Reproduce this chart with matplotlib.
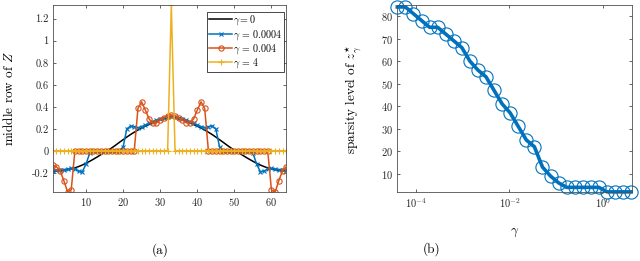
import matplotlib
matplotlib.use('Agg')
import matplotlib.pyplot as plt
from matplotlib.ticker import FixedLocator, FixedFormatter, NullLocator

plt.rcParams['font.family'] = 'serif'
plt.rcParams['font.serif'] = ['cmr10']
plt.rcParams['mathtext.fontset'] = 'cm'
plt.rcParams['axes.formatter.use_mathtext'] = True

# (a) middle row of Z, one value per column index 1..64
idx = list(range(1, 65))
gamma0 = [-0.185, -0.183, -0.180, -0.176, -0.171, -0.164, -0.155, -0.143, -0.129, -0.113,
          -0.095, -0.076, -0.056, -0.035, -0.013, 0.005, 0.028, 0.052, 0.077, 0.101,
          0.125, 0.148, 0.169, 0.189, 0.207, 0.224, 0.239, 0.253, 0.268, 0.281,
          0.292, 0.302, 0.310,
          0.302, 0.292, 0.281, 0.268, 0.253, 0.239, 0.224, 0.207, 0.189, 0.169,
          0.148, 0.125, 0.101, 0.077, 0.052, 0.028, 0.005, -0.013, -0.035, -0.056,
          -0.076, -0.095, -0.113, -0.129, -0.143, -0.155, -0.164, -0.171, -0.176, -0.180,
          -0.183]
gamma_1e4 = [-0.18, -0.175, -0.17, -0.17, -0.165, -0.16, -0.165, -0.185, -0.19, -0.12,
             -0.02, 0.0, 0.0, 0.0, 0.0, 0.0, 0.0, 0.0, 0.0, 0.035,
             0.20, 0.225, 0.22, 0.21, 0.22, 0.235, 0.25, 0.265, 0.28, 0.29,
             0.30, 0.31, 0.315,
             0.31, 0.30, 0.29, 0.28, 0.265, 0.25, 0.235, 0.22, 0.21, 0.22,
             0.225, 0.20, 0.035, 0.0, 0.0, 0.0, 0.0, 0.0, 0.0, 0.0,
             0.0, -0.02, -0.12, -0.19, -0.185, -0.165, -0.16, -0.165, -0.17, -0.17,
             -0.175]
gamma_4e3 = [-0.13, -0.145, -0.18, -0.27, -0.37, -0.355, 0, 0, 0, 0,
             0, 0, 0, 0, 0, 0, 0, 0, 0, 0,
             0, 0, 0, 0.385, 0.445, 0.37, 0.29, 0.25, 0.255, 0.28,
             0.30, 0.32, 0.325,
             0.32, 0.30, 0.28, 0.255, 0.25, 0.29, 0.37, 0.445, 0.385, 0,
             0, 0, 0, 0, 0, 0, 0, 0, 0, 0,
             0, 0, 0, 0, 0, 0, -0.355, -0.375, -0.27, -0.18,
             -0.145]
gamma4 = [0.0] * 32 + [1.325] + [0.0] * 31

# (b) sparsity level vs gamma
gammas = [4.00e-5, 5.95e-5, 8.85e-5, 1.316e-4, 1.957e-4, 2.911e-4, 4.330e-4, 6.440e-4,
          9.58e-4, 1.425e-3, 2.119e-3, 3.152e-3, 4.688e-3, 6.973e-3, 1.037e-2, 1.543e-2,
          2.295e-2, 3.413e-2, 5.076e-2, 7.55e-2, 0.1123, 0.1670, 0.2484, 0.3695,
          0.5495, 0.8174, 1.216, 1.808, 2.689, 4.0]
sparsity = [84, 84, 81, 78, 75, 75, 72, 69, 66, 60, 56, 53, 47, 41, 37, 31, 25, 22, 13, 9,
            6, 4, 4, 4, 4, 4, 2, 2, 2, 2]

blue = '#0072BD'
orange = '#D95319'
yellow = '#EDB120'
axcol = '#505050'

fig = plt.figure(figsize=(6.4, 2.61), dpi=100)
ax1 = fig.add_axes([0.0823, 0.264, 0.365, 0.717])
ax2 = fig.add_axes([0.620, 0.264, 0.367, 0.717])

for ax in (ax1, ax2):
    ax.tick_params(direction='in', top=True, right=True, length=2.5, width=0.5,
                   labelsize=7.5, colors='#262626', pad=3)
    for s in ax.spines.values():
        s.set_linewidth(0.6)
        s.set_color(axcol)

ax1.plot(idx, gamma0, color='black', lw=1.1, label=r'$\gamma = 0$')
ax1.plot(idx, gamma_1e4, color=blue, lw=1.1, marker='x', ms=3, mew=0.8,
         label=r'$\gamma$ = 0.0004')
ax1.plot(idx, gamma_4e3, color=orange, lw=1.1, marker='o', ms=3.8, mew=0.8,
         mfc='none', label=r'$\gamma$ = 0.004')
ax1.plot(idx, gamma4, color=yellow, lw=1.1, marker='+', ms=4, mew=0.8,
         label=r'$\gamma$ = 4')
ax1.set_xlim(1, 64)
ax1.set_ylim(-0.375, 1.325)
ax1.xaxis.set_major_locator(FixedLocator([10, 20, 30, 40, 50, 60]))
yt = [-0.2, 0, 0.2, 0.4, 0.6, 0.8, 1, 1.2]
ax1.yaxis.set_major_locator(FixedLocator(yt))
ax1.yaxis.set_major_formatter(FixedFormatter(['-0.2', '0', '0.2', '0.4', '0.6', '0.8', '1', '1.2']))
ax1.set_ylabel(r'middle row of $Z$', fontsize=9.5, labelpad=11)
leg = ax1.legend(loc='upper right', bbox_to_anchor=(0.99, 0.965), fontsize=7.2,
                 numpoints=1, handlelength=2.3, handletextpad=0.1, labelspacing=0.05,
                 borderpad=0.2, borderaxespad=0.0, fancybox=False, framealpha=1)
leg.get_frame().set_edgecolor('black')
leg.get_frame().set_linewidth(0.5)
fig.text(0.25, 0.04, '(a)', ha='center', va='center', fontsize=9.5)

ax2.plot(gammas, sparsity, color=blue, lw=2.6, marker='o', ms=9.5, mew=0.8,
         mfc='none', clip_on=False)
ax2.set_xscale('log')
ax2.set_xlim(3.9e-5, 4.1)
ax2.set_ylim(1.9, 84.9)
ax2.xaxis.set_major_locator(FixedLocator([1e-4, 1e-2, 1]))
ax2.xaxis.set_major_formatter(FixedFormatter([r'$10^{-4}$', r'$10^{-2}$', r'$10^{0}$']))
ax2.xaxis.set_minor_locator(NullLocator())
ax2.yaxis.set_major_locator(FixedLocator([10, 20, 30, 40, 50, 60, 70, 80]))
ax2.set_ylabel(r'sparsity level of $z^{\star}_{\gamma}$', fontsize=9.5, labelpad=13)
ax2.set_xlabel(r'$\gamma$', fontsize=9.5, labelpad=12)
fig.text(0.674, 0.045, '(b)', ha='center', va='center', fontsize=9.5)

fig.savefig('out.png', dpi=100)
